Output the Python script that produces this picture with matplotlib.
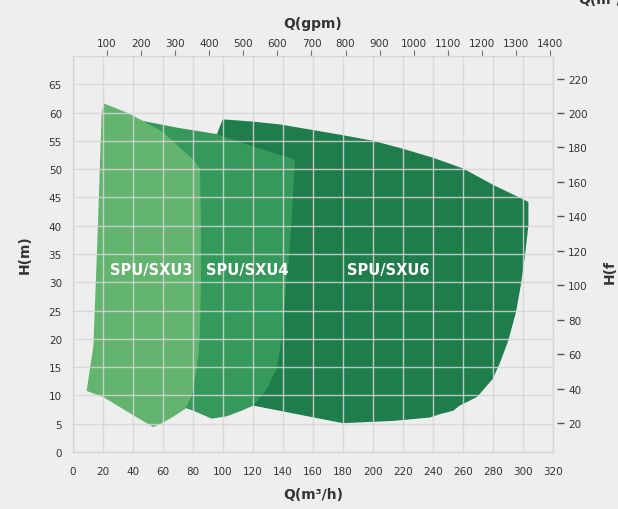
import numpy as np
from matplotlib import pyplot as plt

# pump range envelopes, Q in m3/h, H in m
sxu3_q = [20.7, 35.8, 46.9, 60.2, 71.3, 80.2, 84.7, 85.3, 85.3, 84.7, 83.6, 82.4, 79.1, 74.7,
          66.0, 58.0, 53.5, 40.2, 20.2, 9.1, 11.3, 13.6, 15.3, 16.9, 19.1]
sxu3_h = [61.6, 60.0, 58.5, 56.5, 53.8, 51.7, 50.1, 40.0, 30.6, 21.7, 17.0, 14.7, 9.9, 7.6,
          6.1, 4.9, 4.4, 6.5, 9.7, 10.8, 14.7, 18.8, 30.6, 42.3, 60.0]

sxu4_q = [46.9, 70.0, 95.8, 120.0, 148.0, 145.8, 143.6, 142.4, 139.1, 135.8, 129.1, 120.2, 112.4,
          102.4, 92.4, 80.2, 73.5, 60.0, 45.0]
sxu4_h = [58.5, 57.3, 56.2, 54.0, 51.7, 41.2, 33.0, 30.6, 20.0, 14.7, 11.1, 8.2, 7.3,
          6.3, 5.9, 7.3, 7.9, 10.0, 30.0]

sxu6_q = [96.0, 99.8, 120.0, 138.0, 160.2, 180.0, 200.2, 220.0, 240.2, 260.2, 280.2, 299.8, 303.6,
          303.6, 301.3, 298.7, 295.3, 290.2, 284.7, 279.8, 275.8, 271.3, 269.1, 257.8, 253.5,
          244.7, 238.0, 213.5, 180.2, 178.0, 120.2, 96.0]
sxu6_h = [56.2, 58.8, 58.4, 57.9, 56.9, 56.0, 55.0, 53.6, 52.0, 50.1, 47.2, 44.7, 44.2,
          40.0, 34.7, 29.7, 24.7, 19.7, 15.8, 12.9, 11.7, 10.3, 9.7, 8.2, 7.3,
          6.7, 6.1, 5.5, 5.1, 5.2, 8.2, 30.0]

series = [
    ("SPU/SXU6", sxu6_q, sxu6_h, "#1f7c4b", (210, 32.3)),
    ("SPU/SXU4", sxu4_q, sxu4_h, "#34995a", (116, 32.3)),
    ("SPU/SXU3", sxu3_q, sxu3_h, "#63b46f", (52, 32.3)),
]

x_ticks = np.arange(0, 321, 20)
y_ticks = np.arange(0, 66, 5)
gpm_ticks = np.arange(100, 1401, 100)
ft_ticks = np.arange(20, 221, 20)

M3H_TO_GPM = 4.40287
M_TO_FT = 3.28084
FT_OFFSET = 3.4

bg = "#eeeeee"
txt = "#333333"
grid_c = "#d6d6d6"

fig = plt.figure(figsize=(6.18, 5.10), dpi=100, facecolor=bg)
ax = fig.add_axes([73 / 618, 57 / 510, 480 / 618, 396 / 510])
ax.set_facecolor(bg)

for name, q, h, color, (lx, ly) in series:
    ax.fill(q, h, color=color, lw=0, zorder=2)
    ax.text(lx, ly, name, color="white", fontsize=10.5, fontweight="bold",
            ha="center", va="center", zorder=4)

ax.set_xlim(0, 320)
ax.set_ylim(0, 70)
ax.set_xticks(x_ticks)
ax.set_yticks(y_ticks)
ax.grid(True, color=grid_c, lw=1.0, alpha=0.85, zorder=3)
ax.set_axisbelow(False)
for s in ax.spines.values():
    s.set_color(grid_c)
    s.set_linewidth(1.0)
ax.tick_params(length=0, labelsize=7.5, labelcolor=txt, pad=8)
ax.tick_params(axis="x", pad=10)

ax.set_xlabel("Q(m³/h)", fontsize=10, color=txt, fontweight="semibold", labelpad=8)
ax.set_ylabel("H(m)", fontsize=10, color=txt, fontweight="semibold", labelpad=12)

top = ax.secondary_xaxis("top", functions=(lambda x: x * M3H_TO_GPM, lambda g: g / M3H_TO_GPM))
top.set_xticks(gpm_ticks)
top.spines["top"].set_visible(False)
top.tick_params(length=4, width=0.8, color="#777777", labelsize=7.5, labelcolor=txt, pad=2)
top.set_xlabel("Q(gpm)", fontsize=10, color=txt, fontweight="semibold", labelpad=8)

right = ax.secondary_yaxis("right", functions=(lambda m: m * M_TO_FT + FT_OFFSET,
                                               lambda f: (f - FT_OFFSET) / M_TO_FT))
right.set_yticks(ft_ticks)
right.spines["right"].set_position(("outward", 3))
right.spines["right"].set_visible(False)
right.tick_params(length=5, width=1.0, color="#555555", labelsize=7.5, labelcolor=txt, pad=3)

# side labels as they sit in the reference, partly outside the frame
fig.text(610 / 618, 1 - 272 / 510, "H(f", fontsize=10, color=txt, fontweight="semibold",
         rotation=90, ha="center", va="center")
fig.text(0.985, 1.0, "Q(m³/h)", fontsize=10, color=txt, fontweight="semibold",
         ha="center", va="center")

fig.savefig("out.png", dpi=100, facecolor=bg)
